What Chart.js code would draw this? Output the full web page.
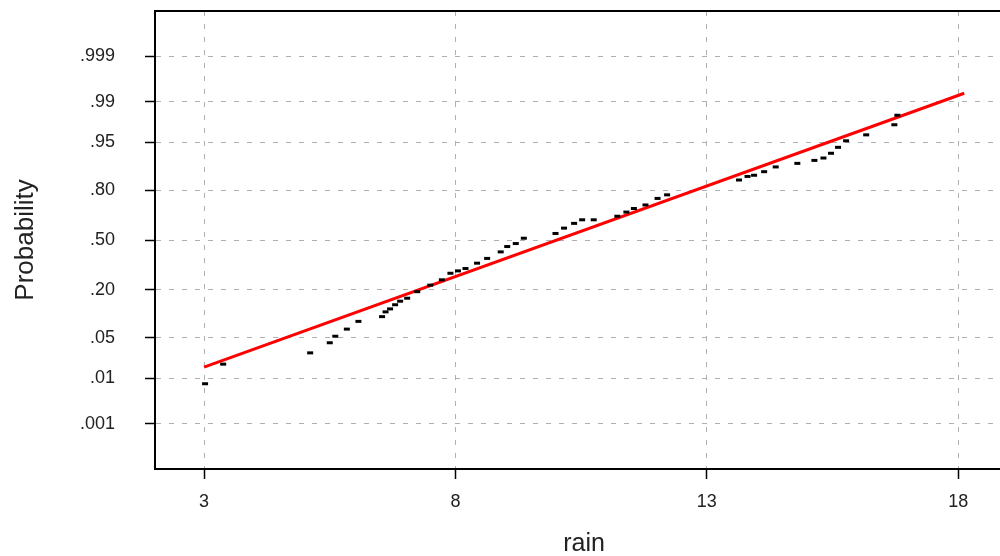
<!DOCTYPE html>
<html>
<head>
<meta charset="utf-8">
<script src="https://cdn.jsdelivr.net/npm/chart.js@4"></script>
<style>
  html, body { margin: 0; padding: 0; background: #fff; overflow: hidden; }
  #wrap { width: 1000px; height: 556px; overflow: hidden; }
</style>
</head>
<body>
<div id="wrap"><canvas id="probChart" width="1020" height="556"></canvas></div>
<script>
// rain values and their normal scores
const rain = [3.02, 3.38, 5.11, 5.50, 5.61, 5.84, 6.07, 6.54, 6.61, 6.70, 6.80, 6.90, 7.04, 7.24, 7.50,
  7.73, 7.90, 8.05, 8.20, 8.43, 8.63, 8.90, 9.03, 9.20, 9.36, 9.99, 10.16, 10.36, 10.52, 10.75, 11.22,
  11.40, 11.55, 11.78, 12.02, 12.21, 13.64, 13.81, 13.94, 14.14, 14.37, 14.80, 15.14, 15.32, 15.47,
  15.61, 15.77, 16.17, 16.73, 16.79];
const normalScore = [-2.42, -2.09, -1.90, -1.73, -1.62, -1.50, -1.37, -1.29, -1.21, -1.16, -1.09, -1.03,
  -0.98, -0.87, -0.76, -0.67, -0.56, -0.52, -0.48, -0.39, -0.31, -0.20, -0.11, -0.06, 0.03, 0.11, 0.20,
  0.28, 0.34, 0.34, 0.40, 0.47, 0.53, 0.59, 0.70, 0.76, 1.01, 1.07, 1.09, 1.15, 1.23, 1.29, 1.34, 1.38,
  1.46, 1.56, 1.67, 1.77, 1.94, 2.10];

// fitted normal line (ends)
const fitRain = [3.0, 18.12];
const fitScore = [-2.14, 2.47];

const probLabels = ['.999', '.99', '.95', '.80', '.50', '.20', '.05', '.01', '.001'];
const probValues = [0.999, 0.99, 0.95, 0.80, 0.50, 0.20, 0.05, 0.01, 0.001];
const rainTicks = [3, 8, 13, 18];

// inverse normal cdf (Acklam)
function probit(p) {
  const a = [-3.969683028665376e+01, 2.209460984245205e+02, -2.759285104469687e+02, 1.383577518672690e+02, -3.066479806614716e+01, 2.506628277459239e+00];
  const b = [-5.447609879822406e+01, 1.615858368580409e+02, -1.556989798598866e+02, 6.680131188771972e+01, -1.328068155288572e+01];
  const c = [-7.784894002430293e-03, -3.223964580411365e-01, -2.400758277161838e+00, -2.549732539343734e+00, 4.374664141464968e+00, 2.938163982698783e+00];
  const d = [7.784695709041462e-03, 3.224671290700398e-01, 2.445134137142996e+00, 3.754408661907416e+00];
  const pl = 0.02425;
  let q, r;
  if (p < pl) {
    q = Math.sqrt(-2 * Math.log(p));
    return (((((c[0]*q+c[1])*q+c[2])*q+c[3])*q+c[4])*q+c[5]) / ((((d[0]*q+d[1])*q+d[2])*q+d[3])*q+1);
  }
  if (p > 1 - pl) {
    q = Math.sqrt(-2 * Math.log(1 - p));
    return -(((((c[0]*q+c[1])*q+c[2])*q+c[3])*q+c[4])*q+c[5]) / ((((d[0]*q+d[1])*q+d[2])*q+d[3])*q+1);
  }
  q = p - 0.5; r = q * q;
  return (((((a[0]*r+a[1])*r+a[2])*r+a[3])*r+a[4])*r+a[5])*q / (((((b[0]*r+b[1])*r+b[2])*r+b[3])*r+b[4])*r+1);
}

const frame = {
  id: 'frame',
  afterDraw(chart) {
    const { ctx, chartArea: a } = chart;
    ctx.save();
    ctx.strokeStyle = '#000';
    ctx.lineWidth = 2;
    ctx.strokeRect(a.left, a.top, a.right - a.left, a.bottom - a.top);
    ctx.restore();
  }
};

const fontFamily = "'Liberation Sans', Arial, sans-serif";
const ctx = document.getElementById('probChart').getContext('2d');

new Chart(ctx, {
  type: 'scatter',
  data: {
    datasets: [
      {
        label: 'rain',
        data: rain.map((v, i) => ({ x: v, y: normalScore[i] })),
        pointStyle: 'line',
        pointRadius: 3,
        borderColor: '#000',
        borderWidth: 3,
        order: 1
      },
      {
        label: 'fit',
        data: fitRain.map((v, i) => ({ x: v, y: fitScore[i] })),
        showLine: true,
        pointRadius: 0,
        borderColor: '#ff0000',
        borderWidth: 3,
        order: 2
      }
    ]
  },
  options: {
    responsive: false,
    animation: false,
    layout: { padding: { top: 11, right: 0, left: 0, bottom: 0 } },
    plugins: {
      legend: { display: false },
      tooltip: { enabled: false }
    },
    scales: {
      x: {
        type: 'linear',
        min: 2.024,
        max: 19.09,
        afterBuildTicks: scale => { scale.ticks = rainTicks.map(v => ({ value: v })); },
        afterFit: scale => { scale.height = 87; scale.paddingLeft = 0; scale.paddingRight = 0; },
        grid: { color: '#b0b0b0', tickColor: '#000', tickLength: 10, tickWidth: 1.5, tickBorderDash: [] },
        border: { color: '#000', width: 2, dash: [5, 8] },
        ticks: { color: '#222', padding: 12, font: { family: fontFamily, size: 18 } },
        title: { display: true, text: 'rain', color: '#222', padding: { top: 0, bottom: -3 }, font: { family: fontFamily, size: 25 } }
      },
      y: {
        type: 'linear',
        min: -3.855,
        max: 3.855,
        afterBuildTicks: scale => { scale.ticks = probValues.map(p => ({ value: probit(p) })); },
        afterFit: scale => { scale.width = 155; scale.paddingTop = 0; scale.paddingBottom = 0; },
        grid: { color: '#b0b0b0', tickColor: '#000', tickLength: 10, tickWidth: 1.5, tickBorderDash: [] },
        border: { color: '#000', width: 2, dash: [5, 8] },
        ticks: {
          color: '#222',
          padding: 30,
          font: { family: fontFamily, size: 18 },
          callback: (value, index) => probLabels[index]
        },
        title: { display: true, text: 'Probability', color: '#222', padding: { top: 10, bottom: 0 }, font: { family: fontFamily, size: 26 } }
      }
    }
  },
  plugins: [frame]
});
</script>
</body>
</html>
